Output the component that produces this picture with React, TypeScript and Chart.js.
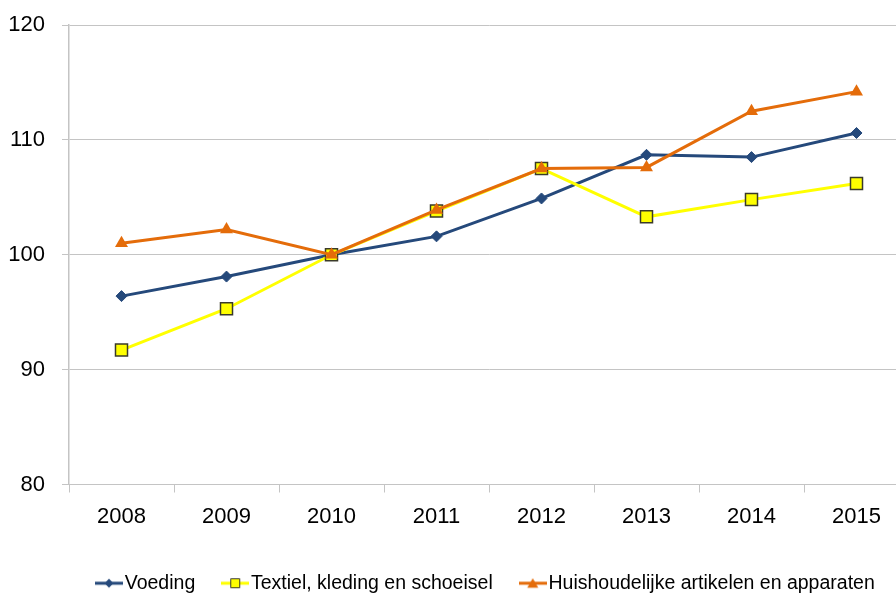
import React, { useEffect, useRef } from 'react';
import { Chart, registerables } from 'chart.js';

Chart.register(...registerables);

const years = ['2008', '2009', '2010', '2011', '2012', '2013', '2014', '2015'];
const voeding = [96.4, 98.1, 100, 101.6, 104.9, 108.7, 108.5, 110.6];
const textiel = [91.7, 95.3, 100, 103.8, 107.5, 103.3, 104.8, 106.2];
const huishoudelijk = [101.0, 102.2, 100, 103.9, 107.5, 107.6, 112.5, 114.2];
const seriesNames = ['Voeding', 'Textiel, kleding en schoeisel', 'Huishoudelijke artikelen en apparaten'];
const yTicks = [80, 90, 100, 110, 120];

const BLUE = '#25497B';
const YELLOW = '#FFFF00';
const ORANGE = '#E46C0A';
const GRID = '#C4C4C4';
const FONT = "'Liberation Sans Narrow', 'Arial Narrow', 'Liberation Sans', Arial, sans-serif";

function legendImage(kind: 'diamond' | 'square' | 'triangle', color: string): HTMLCanvasElement {
  const c = document.createElement('canvas');
  c.width = 28;
  c.height = 14;
  const ctx = c.getContext('2d')!;
  ctx.strokeStyle = color;
  ctx.lineWidth = 3;
  ctx.beginPath();
  ctx.moveTo(0, 7);
  ctx.lineTo(28, 7);
  ctx.stroke();
  ctx.fillStyle = color;
  ctx.beginPath();
  if (kind === 'diamond') {
    ctx.moveTo(14 - 4.5, 7);
    ctx.lineTo(14, 7 - 4.5);
    ctx.lineTo(14 + 4.5, 7);
    ctx.lineTo(14, 7 + 4.5);
    ctx.closePath();
    ctx.fill();
  } else if (kind === 'square') {
    ctx.rect(9.5, 2.5, 9, 9);
    ctx.fill();
    ctx.strokeStyle = '#3A3A2A';
    ctx.lineWidth = 1;
    ctx.stroke();
  } else {
    ctx.moveTo(14, 2);
    ctx.lineTo(19.5, 11.5);
    ctx.lineTo(8.5, 11.5);
    ctx.closePath();
    ctx.fill();
  }
  return c;
}

const legendShift = {
  id: 'legendShift',
  afterLayout(chart: any) {
    const lg = chart.legend;
    if (lg) {
      const w = lg.right - lg.left;
      lg.left = 69;
      lg.right = 69 + w;
    }
  },
};

export default function App() {
  const ref = useRef<HTMLCanvasElement | null>(null);

  useEffect(() => {
    if (!ref.current) return;
    const images = [
      legendImage('diamond', BLUE),
      legendImage('square', YELLOW),
      legendImage('triangle', ORANGE),
    ];
    const colors = [BLUE, YELLOW, ORANGE];

    const chart = new Chart(ref.current, {
      type: 'line',
      data: {
        labels: years,
        datasets: [
          {
            label: seriesNames[0],
            data: voeding,
            borderColor: BLUE,
            backgroundColor: BLUE,
            borderWidth: 3,
            pointStyle: 'rectRot',
            pointRadius: 5.5,
            pointBorderWidth: 1,
            pointBackgroundColor: BLUE,
            pointBorderColor: BLUE,
            order: 3,
          },
          {
            label: seriesNames[1],
            data: textiel,
            borderColor: YELLOW,
            backgroundColor: YELLOW,
            borderWidth: 3,
            pointStyle: 'rect',
            pointRadius: 8.5,
            pointBorderWidth: 1.5,
            pointBackgroundColor: YELLOW,
            pointBorderColor: '#3A3A2A',
            order: 2,
          },
          {
            label: seriesNames[2],
            data: huishoudelijk,
            borderColor: ORANGE,
            backgroundColor: ORANGE,
            borderWidth: 3,
            pointStyle: 'triangle',
            pointRadius: 7.5,
            pointBorderWidth: 0,
            pointBackgroundColor: ORANGE,
            pointBorderColor: ORANGE,
            order: 1,
          },
        ],
      },
      options: {
        responsive: false,
        animation: false,
        layout: { autoPadding: false, padding: { left: 0, right: 3, top: 25, bottom: 0 } },
        scales: {
          x: {
            offset: true,
            grid: {
              offset: true,
              drawOnChartArea: false,
              drawTicks: true,
              tickLength: 8,
              color: GRID,
              lineWidth: 1,
            },
            border: { display: true, color: GRID, width: 1 },
            ticks: {
              color: '#000',
              font: { family: FONT, size: 22 },
              padding: 11,
              maxRotation: 0,
              autoSkip: false,
            },
            afterFit: (scale: any) => {
              scale.height = 55;
            },
          },
          y: {
            min: yTicks[0],
            max: yTicks[yTicks.length - 1],
            grid: {
              color: GRID,
              lineWidth: 1,
              tickLength: 7,
              drawTicks: true,
            },
            border: { display: true, color: GRID, width: 1.5 },
            ticks: {
              stepSize: 10,
              color: '#000',
              font: { family: FONT, size: 22 },
              padding: 17,
            },
            afterFit: (scale: any) => {
              scale.width = 69;
              scale.paddingTop = 0;
              scale.paddingBottom = 0;
            },
          },
        },
        plugins: {
          tooltip: { enabled: false },
          legend: {
            position: 'bottom',
            align: 'start',
            labels: {
              usePointStyle: true,
              pointStyleWidth: 12,
              padding: 34,
              color: '#000',
              font: { family: FONT, size: 19.5 },
              generateLabels: () =>
                seriesNames.map((name, i) => ({
                  text: name,
                  fillStyle: colors[i],
                  strokeStyle: colors[i],
                  lineWidth: 0,
                  pointStyle: images[i],
                  datasetIndex: i,
                  hidden: false,
                  fontColor: '#000',
                })),
            },
          },
        },
      },
      plugins: [legendShift],
    });
    return () => chart.destroy();
  }, []);

  return (
    <div style={{ position: 'fixed', left: 0, top: 0, width: 896, height: 596, overflow: 'hidden', background: '#fff' }}>
      <canvas ref={ref} width={912} height={603} style={{ display: 'block' }} />
    </div>
  );
}
